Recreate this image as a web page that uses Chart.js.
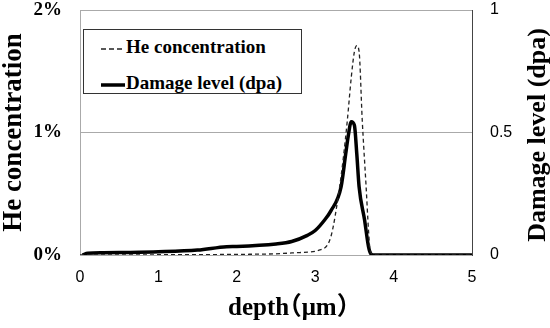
<!DOCTYPE html>
<html>
<head>
<meta charset="utf-8">
<script src="https://cdn.jsdelivr.net/npm/chart.js@4.4.1/dist/chart.umd.min.js"></script>
<style>
body{margin:0;background:#fff;}
#wrap{position:relative;width:550px;height:328px;}
#legend{position:absolute;left:83px;top:29px;width:219px;height:65px;box-sizing:border-box;border:1.5px solid #333;background:#fff;
 font:bold 19px "Liberation Serif",serif;color:#000;}
#legend .row{position:absolute;left:17px;height:22px;line-height:22px;white-space:nowrap;}
#legend svg{vertical-align:middle;margin-right:1px;}
.ttl{position:absolute;font:bold 25px "Liberation Serif","Noto Sans CJK JP",serif;line-height:30px;color:#000;white-space:nowrap;font-feature-settings:"halt";}
#xtitle{left:228px;top:292px;}
#ytitle2{left:417px;top:120px;width:240px;height:30px;text-align:center;transform:rotate(-90deg);font-size:26px;}
</style>
</head>
<body>
<div id="wrap">
<canvas id="c" width="550" height="328"></canvas>
<div id="legend">
 <div class="row" style="top:6px"><svg width="24" height="6"><line x1="0" y1="3" x2="24" y2="3" stroke="#222" stroke-width="1.4" stroke-dasharray="5,3"/></svg>He concentration</div>
 <div class="row" style="top:42px"><svg width="24" height="6"><line x1="0" y1="3" x2="24" y2="3" stroke="#000" stroke-width="3.5"/></svg>Damage level (dpa)</div>
</div>
<div id="xtitle" class="ttl">depth（μm）</div>
<div id="ytitle2" class="ttl">Damage level (dpa)</div>
</div>
<script>
// He concentration (%) vs depth (um)
let heDepth=[0,0.5,1.0,1.5,2.0,2.5,2.8,3.05,3.2,3.31,3.36,3.41,3.46,3.5,3.53,3.56,3.6,3.65,3.68,3.7,3.74,3.8,4,5];
let heConc=[0,0,0.002,0.003,0.005,0.01,0.02,0.04,0.15,0.55,0.8,1.1,1.45,1.66,1.71,1.66,1.1,0.55,0.2,0.04,0.005,0,0,0];
// damage level (dpa) vs depth (um)
let dmgDepth=[0.03,0.1,0.3,0.5,1.0,1.5,1.87,2.0,2.5,2.7,2.9,3.0,3.12,3.2,3.33,3.39,3.42,3.46,3.5,3.53,3.56,3.63,3.68,3.71,3.75,4,5];
let dmgLevel=[0,0.007,0.009,0.01,0.013,0.02,0.034,0.035,0.045,0.055,0.08,0.1,0.143,0.18,0.278,0.415,0.483,0.544,0.53,0.415,0.278,0.143,0.034,0.005,0,0,0];
let xTicks=[0,1,2,3,4,5];
let dmgTicks=['0','0.5','1'];

function pts(xs,ys){return xs.map((x,i)=>({x:x,y:ys[i]}));}
let sans={family:'"Liberation Sans",Arial,sans-serif',size:16};
let serifB={family:'"Liberation Serif","Times New Roman",serif',size:19,weight:'bold'};

new Chart(document.getElementById('c'),{
 type:'line',
 data:{datasets:[
  {label:'He concentration',data:pts(heDepth,heConc),yAxisID:'y',borderColor:'#222',borderWidth:1.3,borderDash:[4,3],pointRadius:0,cubicInterpolationMode:'monotone'},
  {label:'Damage level (dpa)',data:pts(dmgDepth,dmgLevel),yAxisID:'y1',borderColor:'#000',borderWidth:3.5,pointRadius:0,cubicInterpolationMode:'monotone'}
 ]},
 options:{
  responsive:false,animation:false,
  layout:{padding:0},
  plugins:{legend:{display:false},tooltip:{enabled:false}},
  scales:{
   x:{type:'linear',min:0,max:5,
    afterBuildTicks:s=>{s.ticks=xTicks.map(v=>({value:v}));},
    afterFit:s=>{s.height=73;s.paddingLeft=0;s.paddingRight=0;},
    grid:{display:false,drawTicks:false},
    border:{display:true,color:'#aaa'},
    ticks:{font:sans,color:'#000',padding:13,maxRotation:0}},
   y:{position:'left',min:0,max:2,
    afterFit:s=>{s.width=80;s.paddingTop=10;s.paddingBottom=0;},
    grid:{color:'#aaa',drawTicks:false},
    border:{display:true,color:'#aaa'},
    ticks:{stepSize:1,font:serifB,color:'#000',padding:18,callback:v=>v+'%'},
    title:{display:true,text:'He concentration',color:'#000',padding:0,
     font:{family:'"Liberation Serif","Times New Roman",serif',size:27,weight:'bold',lineHeight:1.05}}},
   y1:{position:'right',min:0,max:1,
    afterFit:s=>{s.width=78;s.paddingTop=10;s.paddingBottom=0;},
    grid:{display:false,drawTicks:false},
    border:{display:true,color:'#444',dash:[2,2],width:1},
    ticks:{stepSize:0.5,font:sans,color:'#000',padding:18,callback:(v,i)=>dmgTicks[i]}}
  }
 }
});
</script>
</body>
</html>
